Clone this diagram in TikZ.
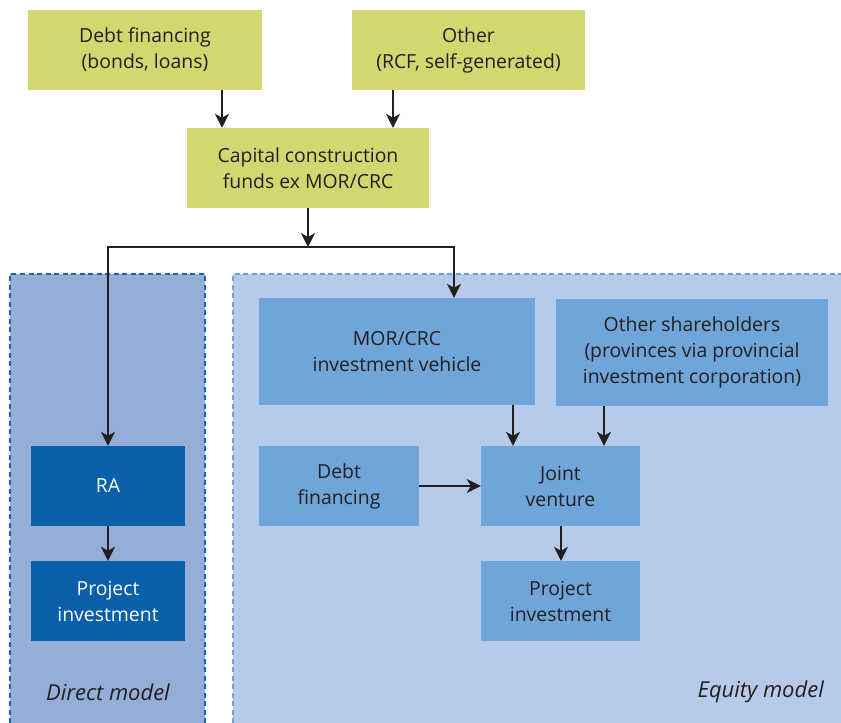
\documentclass[tikz,border=0pt]{standalone}
\usepackage{fontspec}
\setmainfont{Open Sans}
\usetikzlibrary{arrows.meta}
\definecolor{ygreen}{HTML}{D4D670}
\definecolor{dirfill}{HTML}{94AED8}
\definecolor{eqfill}{HTML}{B5CBE9}
\definecolor{midbox}{HTML}{6FA5D8}
\definecolor{darkbox}{HTML}{0A5FAA}
\definecolor{dirline}{HTML}{1565B0}
\definecolor{eqline}{HTML}{6CA2D8}
\definecolor{txt}{HTML}{231F20}
\tikzset{
  box/.style={rectangle, inner sep=0pt, align=center, text=txt,
    font=\fontsize{19.4}{26}\selectfont},
  ybox/.style={box, fill=ygreen},
  mbox/.style={box, fill=midbox},
  dbox/.style={box, fill=darkbox, text=white},
  arr/.style={draw=txt, line width=1.7pt, -{Stealth[length=14pt,width=14pt,inset=4pt]}},
  regionlabel/.style={font=\fontsize{22}{26}\selectfont\itshape, text=txt, inner sep=0pt}
}
\begin{document}
\begin{tikzpicture}[x=1pt,y=-1pt]
\useasboundingbox (0,0) rectangle (841,723);
% regions
\fill[dirfill] (10,274) rectangle (205,723);
\draw[dirline, line width=2pt, dash pattern=on 5pt off 3.5pt] (10,723) -- (10,274) -- (205,274) -- (205,723);
\fill[eqfill] (233,274) rectangle (841,723);
\draw[eqline, line width=2pt, dash pattern=on 5pt off 3.5pt] (233,723) -- (233,274) -- (841,274);
% nodes
\node[ybox, minimum width=234pt, minimum height=80pt] (debt) at (145,50) {Debt financing\\(bonds, loans)};
\node[ybox, minimum width=233pt, minimum height=80pt] (other) at (468.5,50) {Other\\(RCF, self-generated)};
\node[ybox, minimum width=242pt, minimum height=80pt] (cap) at (308,168) {Capital construction\\funds ex MOR/CRC};
\node[mbox, minimum width=276pt, minimum height=107pt] (mor) at (397,351.5) {MOR/CRC\\investment vehicle};
\node[mbox, minimum width=272pt, minimum height=107pt] (oth) at (692,352) {Other shareholders\\(provinces via provincial\\investment corporation)};
\node[mbox, minimum width=160pt, minimum height=80pt] (df) at (339,486) {Debt\\financing};
\node[mbox, minimum width=159pt, minimum height=80pt] (jv) at (560.5,486) {Joint\\venture};
\node[mbox, minimum width=159pt, minimum height=80pt] (pe) at (560.5,601) {Project\\investment};
\node[dbox, minimum width=154pt, minimum height=80pt] (ra) at (108,486) {RA};
\node[dbox, minimum width=154pt, minimum height=80pt] (pd) at (108,601) {Project\\investment};
\node[regionlabel] (dlab) at (108,692) {Direct model};
\node[regionlabel, anchor=east] (elab) at (824,692) {Equity model};
% helper coordinates
\coordinate (xa) at (222,0);
\coordinate (xb) at (393,0);
\coordinate (split) at (308,247);
\coordinate (xm) at (454,0);
\coordinate (xj1) at (513,0);
\coordinate (xj2) at (604,0);
\coordinate (xj3) at (561,0);
% connectors
\draw[arr] (debt.south -| xa) -- (cap.north -| xa);
\draw[arr] (other.south -| xb) -- (cap.north -| xb);
\draw[arr] (cap.south) -- (split);
\draw[arr] (split) -| (ra.north);
\draw[arr] (split) -| (mor.north -| xm);
\draw[arr] (mor.south -| xj1) -- (jv.north -| xj1);
\draw[arr] (oth.south -| xj2) -- (jv.north -| xj2);
\draw[arr] (df.east) -- (jv.west);
\draw[arr] (jv.south -| xj3) -- (pe.north -| xj3);
\draw[arr] (ra.south) -- (pd.north);
\end{tikzpicture}
\end{document}
